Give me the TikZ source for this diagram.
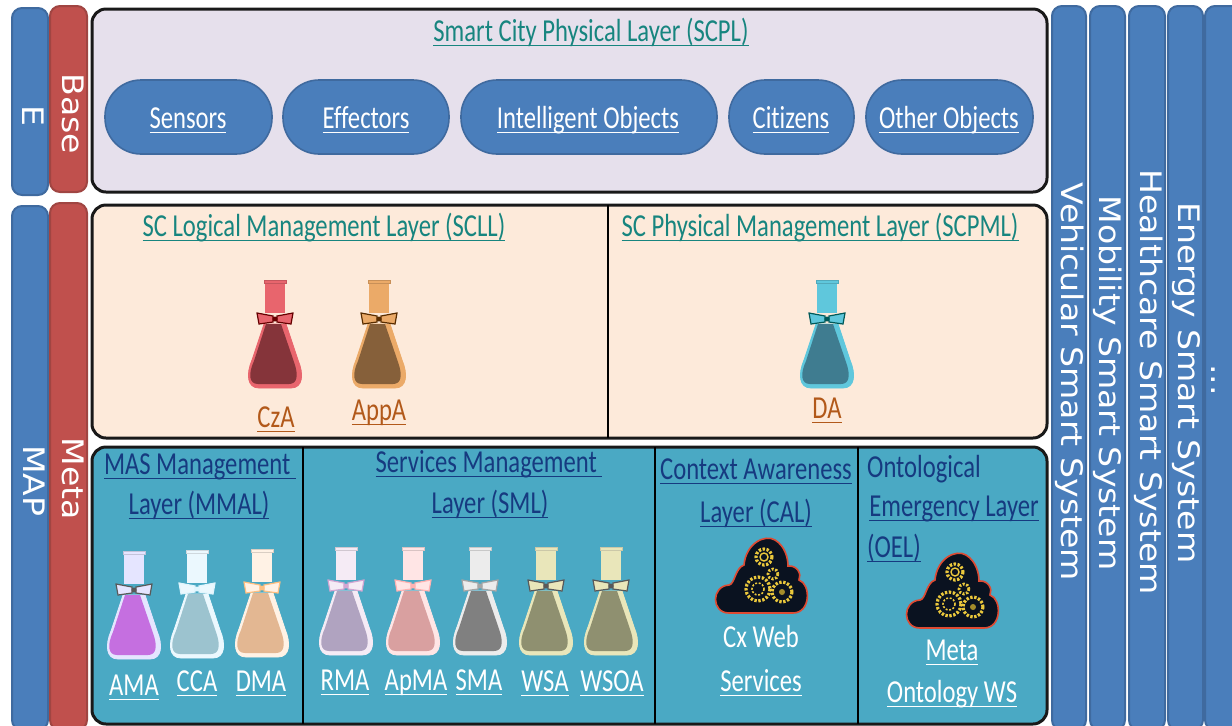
\documentclass[tikz,border=0pt]{standalone}
\usepackage{fontspec}
\setmainfont{Carlito}
\newfontfamily\titlefont[FakeStretch=.77,Ligatures=NoCommon]{Carlito}
\newfontfamily\sidefont[FakeStretch=1.12]{DejaVu Sans}
\definecolor{sideblue}{HTML}{4A7EBB}
\definecolor{sideedge}{HTML}{3F6A9F}
\definecolor{sidered}{HTML}{C0504D}
\definecolor{rededge}{HTML}{A04542}
\definecolor{physfill}{HTML}{E6E0EC}
\definecolor{mgmtfill}{HTML}{FDEADA}
\definecolor{metafill}{HTML}{4AA9C4}
\definecolor{tealtext}{HTML}{17857F}
\definecolor{browntext}{HTML}{B2591A}
\definecolor{navytext}{HTML}{163A80}
\definecolor{gearyellow}{HTML}{EBC83C}
\definecolor{cloudred}{HTML}{DE4A32}
\definecolor{cloudblack}{HTML}{0A1220}
% flask colours
\definecolor{czaliquid}{HTML}{85343A}
\definecolor{czaglass}{HTML}{E8656D}
\definecolor{appaliquid}{HTML}{86603A}
\definecolor{appaglass}{HTML}{EBAA68}
\definecolor{daliquid}{HTML}{3F7C90}
\definecolor{daglass}{HTML}{5FC7DC}
\definecolor{amaliquid}{HTML}{C56FE0}
\definecolor{ccaliquid}{HTML}{9CC3CF}
\definecolor{dmaliquid}{HTML}{E3B792}
\definecolor{rmaliquid}{HTML}{B0A3C0}
\definecolor{apmaliquid}{HTML}{D9A0A0}
\definecolor{wsaliquid}{HTML}{8F9070}
\tikzset{
  sidebar/.style={draw=sideedge, fill=sideblue, line width=1pt, rounded corners=5pt},
  redbar/.style={draw=rededge, fill=sidered, line width=1pt, rounded corners=5pt},
  layerbox/.style={draw=black!90, line width=1.5pt, rounded corners=7pt},
  pill/.style={draw=sideedge, fill=sideblue, line width=.8pt, rounded corners=18pt},
  sidetext/.style={text=white, font=\sidefont\fontsize{14.8}{16}\selectfont, rotate=-90},
  lbl/.style={font=\titlefont\fontsize{16}{18}\selectfont, text height=10pt, text depth=3pt}
}
% underlined label, the rule stays at one height
\newcommand{\ul}[1]{\setbox0\hbox{#1}\rlap{\rule[-2.5pt]{\wd0}{.7pt}}\box0}
% one flask: centre, top, liquid, glass, collar
\newcommand{\flask}[5]{
  \begin{scope}[shift={(#1,#2)}]
    \fill[#4] (-10,0) rectangle (10,33);
    \draw[fill=#4, draw=#4!85!black, line width=.4pt] (-11,0) rectangle (11,3);
    \draw[fill=#4, draw=#4] (-11,44) -- (11,44) -- (23,80) .. controls (29,94) and (28,108) .. (16,108) -- (-16,108) .. controls (-28,108) and (-29,94) .. (-23,80) -- cycle;
    \fill[#3] (-9,44) -- (6,44) -- (19,82) .. controls (24,96) and (22,104) .. (14,104) -- (-17,104) .. controls (-26,104) and (-27,94) .. (-21,81) -- cycle;
    \draw[fill=#4, draw=#5, line width=.6pt] (-18,33) -- (-16,44) -- (-2,42) -- (-2,36) -- cycle;
    \draw[fill=#4, draw=#5, line width=.6pt] (18,33) -- (16,44) -- (2,42) -- (2,36) -- cycle;
    \fill[#5] (0,39) circle (2.5);
  \end{scope}
}
% cloud with gears: centre, top
\newcommand{\gearcloud}[2]{
  \begin{scope}[shift={(#1,#2)}]
    \draw[fill=cloudblack, draw=cloudred, line width=.8pt] (-32,75) .. controls (-50,75) and (-50,48) .. (-32,47) .. controls (-26,46) and (-26,30) .. (-17,27) .. controls (-15,5) and (4,-4) .. (14,2) .. controls (24,8) and (27,20) .. (27,28) .. controls (36,27) and (41,36) .. (38,42) .. controls (50,46) and (50,75) .. (32,75) -- cycle;
    \draw[gearyellow, line width=1.6pt, dash pattern=on 1.2pt off .8pt] (3,19) circle (8);
    \draw[gearyellow, line width=.7pt] (3,19) circle (4);
    \draw[gearyellow, line width=1.4pt, dash pattern=on 1pt off .8pt] (12,36) circle (5);
    \draw[gearyellow, line width=1.6pt, dash pattern=on 1.2pt off .8pt] (-3,51) circle (12);
    \draw[gearyellow, line width=.8pt, dash pattern=on 1pt off .8pt] (-3,51) circle (6);
    \draw[gearyellow, line width=1.6pt, dash pattern=on 1.2pt off .8pt] (21,54) circle (10);
    \fill[gearyellow!70!black] (21,54) circle (3);
  \end{scope}
}
\begin{document}
\begin{tikzpicture}[x=.5pt,y=-.5pt]
  \useasboundingbox (0,0) rectangle (1232,725);
  % the left bars
  \draw[sidebar] (12,8) rectangle (48,195);
  \draw (33,116) node[sidetext] (leftE) {E};
  \draw[sidebar] (12,206) rectangle (48,730);
  \draw (34,481) node[sidetext] (leftMAP) {MAP};
  \draw[redbar] (50,6) rectangle (87,192);
  \draw (73,114) node[sidetext] (leftBase) {Base};
  \draw[redbar] (50,203) rectangle (87,730);
  \draw (73,479) node[sidetext] (leftMeta) {Meta};

  % the physical layer
  \draw[layerbox, fill=physfill] (92,9) rectangle (1047,192);
  \draw (591,34) node[lbl, text=tealtext] (scpl) {\ul{Smart City Physical Layer (SCPL)}};
  \draw[pill] (105,80) rectangle (272,154);
  \draw (188,121) node[lbl, text=white] (sensors) {\ul{Sensors}};
  \draw[pill] (283,80) rectangle (449,154);
  \draw (366,121) node[lbl, text=white] (effectors) {\ul{Effectors}};
  \draw[pill] (461,80) rectangle (717,154);
  \draw (588,121) node[lbl, text=white] (objects) {\ul{Intelligent Objects}};
  \draw[pill] (729,80) rectangle (854,154);
  \draw (791,121) node[lbl, text=white] (citizens) {\ul{Citizens}};
  \draw[pill] (866,80) rectangle (1033,154);
  \draw (949,121) node[lbl, text=white] (others) {\ul{Other Objects}};

  % the management layers
  \draw[layerbox, fill=mgmtfill] (92,205) rectangle (1047,438);
  \draw[black, line width=1pt] (608,205) -- (608,438);
  \draw (324,229) node[lbl, text=tealtext] (scll) {\ul{SC Logical Management Layer (SCLL)}};
  \draw (820,229) node[lbl, text=tealtext] (scpml) {\ul{SC Physical Management Layer (SCPML)}};
  \flask{275}{280}{czaliquid}{czaglass}{red!40!black}
  \draw (276,420) node[lbl, text=browntext] (cza) {\ul{CzA}};
  \flask{379}{280}{appaliquid}{appaglass}{orange!35!black}
  \draw (379,413) node[lbl, text=browntext] (appa) {\ul{AppA}};
  \flask{827}{280}{daliquid}{daglass}{teal!70!black}
  \draw (827,411) node[lbl, text=browntext] (da) {\ul{DA}};

  % the meta layers
  \draw[layerbox, fill=metafill] (92,447) rectangle (1047,724);
  \draw[black, line width=.8pt] (303,447) -- (303,724);
  \draw[black, line width=.8pt] (655,447) -- (655,724);
  \draw[black, line width=.8pt] (858,447) -- (858,724);
  \draw (200,467) node[lbl, text=navytext] (mmal1) {\ul{MAS Management\ }};
  \draw (199,507) node[lbl, text=navytext] (mmal2) {\ul{Layer (MMAL)}};
  \draw (489,465) node[lbl, text=navytext] (sml1) {\ul{Services Management\ }};
  \draw (490,506) node[lbl, text=navytext] (sml2) {\ul{Layer (SML)}};
  \draw (756,472) node[lbl, text=navytext] (cal1) {\ul{Context Awareness}};
  \draw (756,515) node[lbl, text=navytext] (cal2) {\ul{Layer (CAL)}};
  \draw (924,470) node[lbl, text=navytext] (oel1) {Ontological};
  \draw (954,509) node[lbl, text=navytext] (oel2) {\ul{Emergency Layer}};
  \draw (894,550) node[lbl, text=navytext] (oel3) {\ul{(OEL)}};

  % the flasks of the MAS layer
  \flask{134}{551}{amaliquid}{blue!10!white}{gray!70!black}
  \draw (134,688) node[lbl, text=white] (ama) {\ul{AMA}};
  \flask{197}{550}{ccaliquid}{cyan!8!white}{cyan!12!white}
  \draw (197,684) node[lbl, text=white] (cca) {\ul{CCA}};
  \flask{262}{549}{dmaliquid}{orange!10!white}{orange!50!white}
  \draw (261,684) node[lbl, text=white] (dma) {\ul{DMA}};
  \flask{346}{547}{rmaliquid}{violet!8!white}{violet!35!white}
  \draw (345,683) node[lbl, text=white] (rma) {\ul{RMA}};
  \flask{413}{547}{apmaliquid}{red!10!white}{red!30!white}
  \draw (416,683) node[lbl, text=white] (apma) {\ul{ApMA}};
  \flask{480}{547}{gray}{gray!15!white}{gray!70!white}
  \draw (479,683) node[lbl, text=white] (sma) {\ul{SMA}};
  \flask{546}{547}{wsaliquid}{olive!20!white}{gray!70!black}
  \draw (545,684) node[lbl, text=white] (wsa) {\ul{WSA}};
  \flask{611}{547}{wsaliquid}{olive!20!white}{gray!70!black}
  \draw (612,684) node[lbl, text=white] (wsoa) {\ul{WSOA}};

  % the clouds
  \gearcloud{761}{538}
  \draw (761,640) node[lbl, text=white] (cxweb) {Cx Web};
  \draw (761,684) node[lbl, text=white] (cxserv) {\ul{Services}};
  \gearcloud{952}{553}
  \draw (952,653) node[lbl, text=white] (meta) {\ul{Meta}};
  \draw (952,695) node[lbl, text=white] (ontws) {\ul{Ontology WS}};

  % the systems on the right
  \draw[sidebar] (1052,6) rectangle (1086,730);
  \draw (1070,382) node[sidetext] (vehicular) {Vehicular Smart System};
  \draw[sidebar] (1090,6) rectangle (1125,730);
  \draw (1108,383) node[sidetext] (mobility) {Mobility Smart System};
  \draw[sidebar] (1129,6) rectangle (1165,730);
  \draw (1149,382) node[sidetext] (healthcare) {Healthcare Smart System};
  \draw[sidebar] (1168,6) rectangle (1203,730);
  \draw (1186,383) node[sidetext] (energy) {Energy Smart System};
  \draw[sidebar] (1205,6) rectangle (1250,730);
  \draw (1213,380) node[sidetext] (more) {...};
\end{tikzpicture}
\end{document}
